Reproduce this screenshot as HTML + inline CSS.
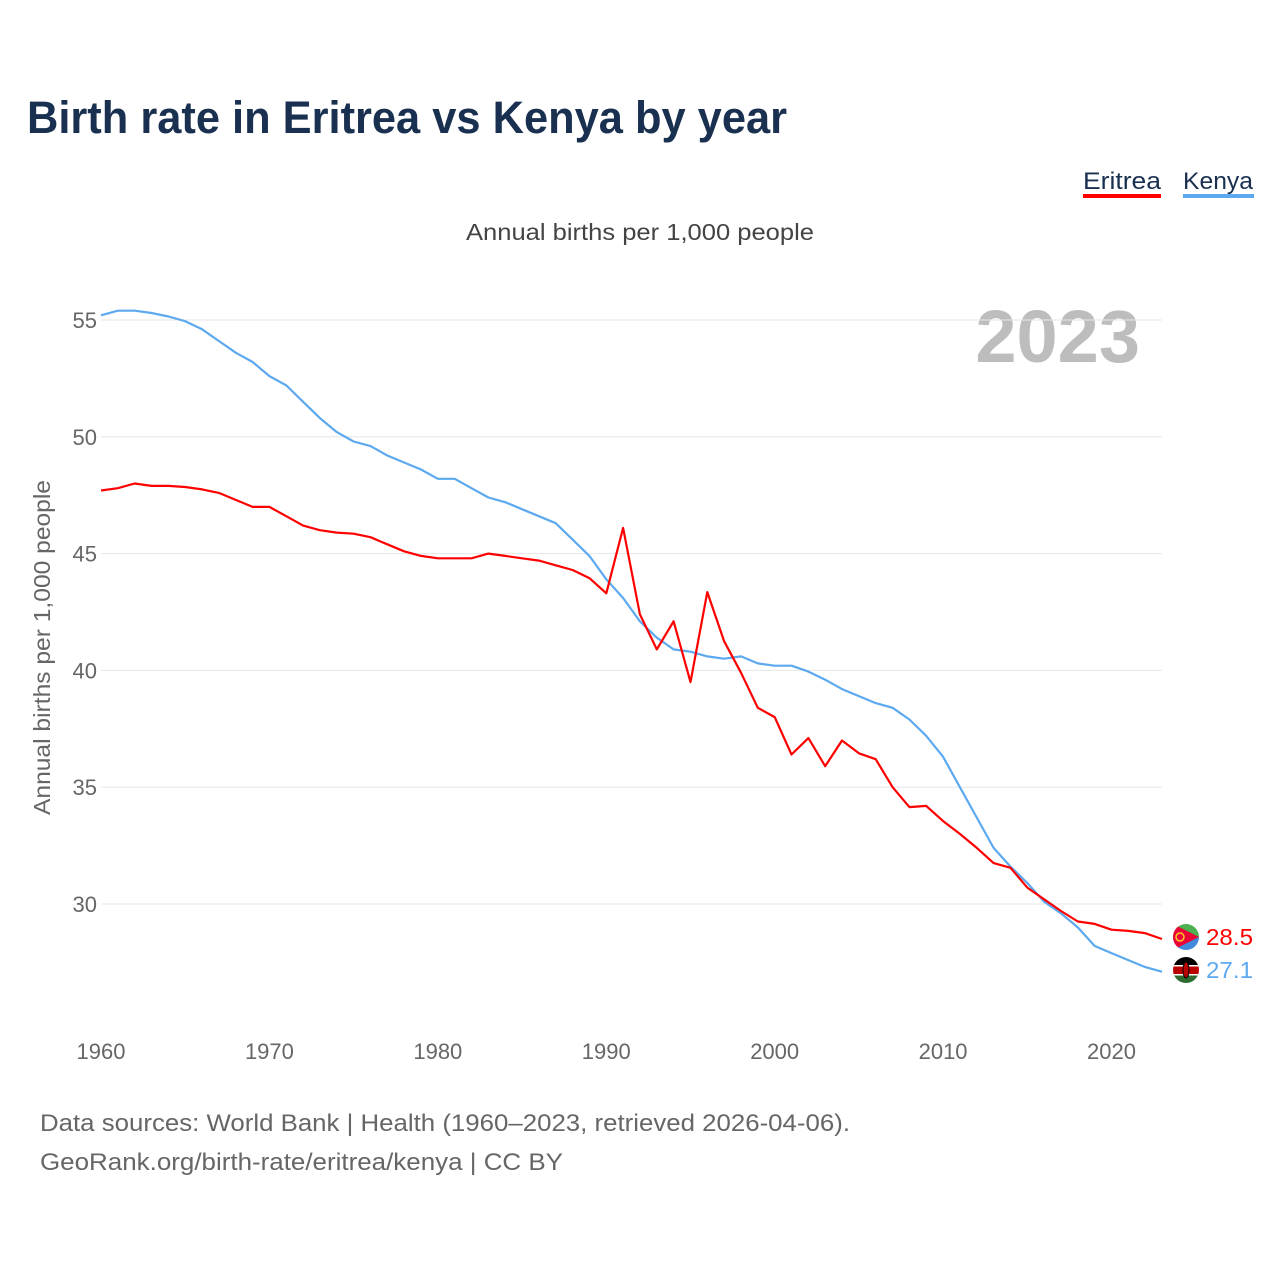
<!DOCTYPE html>
<html><head><meta charset="utf-8"><style>
body{margin:0;background:#fff;font-family:"Liberation Sans",sans-serif}
svg text{font-family:"Liberation Sans",sans-serif}
</style></head><body>
<svg id="c" width="1280" height="1280" viewBox="0 0 1280 1280">
<defs>
<clipPath id="cf1"><circle cx="1186" cy="937" r="13"/></clipPath>
<clipPath id="cf2"><circle cx="1186" cy="970" r="13"/></clipPath>
</defs>
<text x="27" y="133" font-size="45" font-weight="bold" fill="#1a3050" textLength="760" lengthAdjust="spacingAndGlyphs">Birth rate in Eritrea vs Kenya by year</text>
<g><text x="1083" y="189" font-size="24" fill="#1a3050" textLength="78" lengthAdjust="spacingAndGlyphs">Eritrea</text><rect x="1083" y="194" width="78" height="4" fill="#ff0000"/></g>
<g><text x="1183" y="189" font-size="24" fill="#1a3050" textLength="70" lengthAdjust="spacingAndGlyphs">Kenya</text><rect x="1183" y="194" width="71" height="4" fill="#5DA9F0"/></g>
<text x="466" y="240" font-size="23" fill="#444" textLength="348" lengthAdjust="spacingAndGlyphs">Annual births per 1,000 people</text>
<text x="1140" y="362" font-size="74" font-weight="bold" fill="#bdbdbd" text-anchor="end">2023</text>
<text transform="translate(50,815) rotate(-90)" font-size="23" fill="#666" textLength="335" lengthAdjust="spacingAndGlyphs">Annual births per 1,000 people</text>
<g id="grid"></g><g id="lines"></g>
<g clip-path="url(#cf1)">
<rect x="1173" y="924" width="26" height="13" fill="#4caf50"/><rect x="1173" y="937" width="26" height="13" fill="#4189dd"/>
<polygon points="1173,924 1199,937 1173,950" fill="#ea0437"/><circle cx="1180" cy="937" r="4" fill="none" stroke="#ffc726" stroke-width="1.5"/></g>
<g clip-path="url(#cf2)">
<rect x="1173" y="957" width="26" height="9" fill="#000"/><rect x="1173" y="966" width="26" height="8" fill="#b00"/><rect x="1173" y="974" width="26" height="9" fill="#2e6b2e"/>
<rect x="1173" y="965" width="26" height="1.5" fill="#fff"/><rect x="1173" y="974" width="26" height="1.5" fill="#fff"/>
<ellipse cx="1186" cy="970" rx="3" ry="8" fill="#b00" stroke="#000" stroke-width="1"/></g>
<text x="1206" y="945" font-size="23" fill="#ff0000" textLength="47" lengthAdjust="spacingAndGlyphs">28.5</text>
<text x="1206" y="978" font-size="23" fill="#5DA9F0" textLength="47" lengthAdjust="spacingAndGlyphs">27.1</text>
<text x="40" y="1131" font-size="24" fill="#666" textLength="810" lengthAdjust="spacingAndGlyphs">Data sources: World Bank | Health (1960–2023, retrieved 2026-04-06).</text>
<text x="40" y="1170" font-size="24" fill="#666" textLength="523" lengthAdjust="spacingAndGlyphs">GeoRank.org/birth-rate/eritrea/kenya | CC BY</text>
</svg>
<script>
const years=[];for(let y=1960;y<=2023;y++)years.push(y);
const yTicks=[30,35,40,45,50,55];
const xTicks=[1960,1970,1980,1990,2000,2010,2020];
const eritrea=[47.7,47.8,48.0,47.9,47.9,47.85,47.75,47.6,47.3,47.0,47.0,46.6,46.2,46.0,45.9,45.85,45.7,45.4,45.1,44.9,44.8,44.8,44.8,45.0,44.9,44.8,44.7,44.5,44.3,43.95,43.3,46.1,42.4,40.9,42.1,39.5,43.35,41.25,39.9,38.4,38.0,36.4,37.1,35.9,37.0,36.45,36.2,35.0,34.15,34.2,33.55,33.0,32.4,31.75,31.55,30.7,30.2,29.7,29.25,29.15,28.9,28.85,28.75,28.5];
const kenya=[55.2,55.4,55.4,55.3,55.15,54.95,54.6,54.1,53.6,53.2,52.6,52.2,51.5,50.8,50.2,49.8,49.6,49.2,48.9,48.6,48.2,48.2,47.8,47.4,47.2,46.9,46.6,46.3,45.6,44.9,43.9,43.1,42.1,41.4,40.9,40.8,40.6,40.5,40.6,40.3,40.2,40.2,39.95,39.6,39.2,38.9,38.6,38.4,37.9,37.2,36.3,35.0,33.7,32.4,31.6,30.9,30.1,29.6,29.0,28.2,27.9,27.6,27.3,27.1];
const NS="http://www.w3.org/2000/svg";
const X=v=>101+(v-1960)*(1111.5-101)/60;
const Y=v=>320+(55-v)*(904-320)/25;
const grid=document.getElementById('grid'),lines=document.getElementById('lines');
function mk(t,a,p){const e=document.createElementNS(NS,t);for(const k in a)e.setAttribute(k,a[k]);p.appendChild(e);return e;}
yTicks.forEach(v=>{
 const l=mk('line',{x1:101,x2:1162,y1:Y(v),y2:Y(v),stroke:'#e6e6e6','stroke-width':1},grid);
 
 
 const t=mk('text',{x:97,y:Y(v)+8,'font-size':22,fill:'#666','text-anchor':'end'},grid);t.textContent=v;
 
 
});
xTicks.forEach(v=>{
 const t=mk('text',{x:X(v),y:1059,'font-size':22,fill:'#666','text-anchor':'middle'},grid);t.textContent=v;
 
 
});
function line(d,c,n){
 const p=mk('path',{d:d.map((v,i)=>(i?'L':'M')+X(years[i]).toFixed(1)+' '+Y(v).toFixed(1)).join(''),fill:'none',stroke:c,'stroke-width':2.2,'stroke-linejoin':'round'},lines);
 
 
}
line(kenya,'#5DA9F0','kenya-line');
line(eritrea,'#ff0000','eritrea-line');
</script>
</body></html>
